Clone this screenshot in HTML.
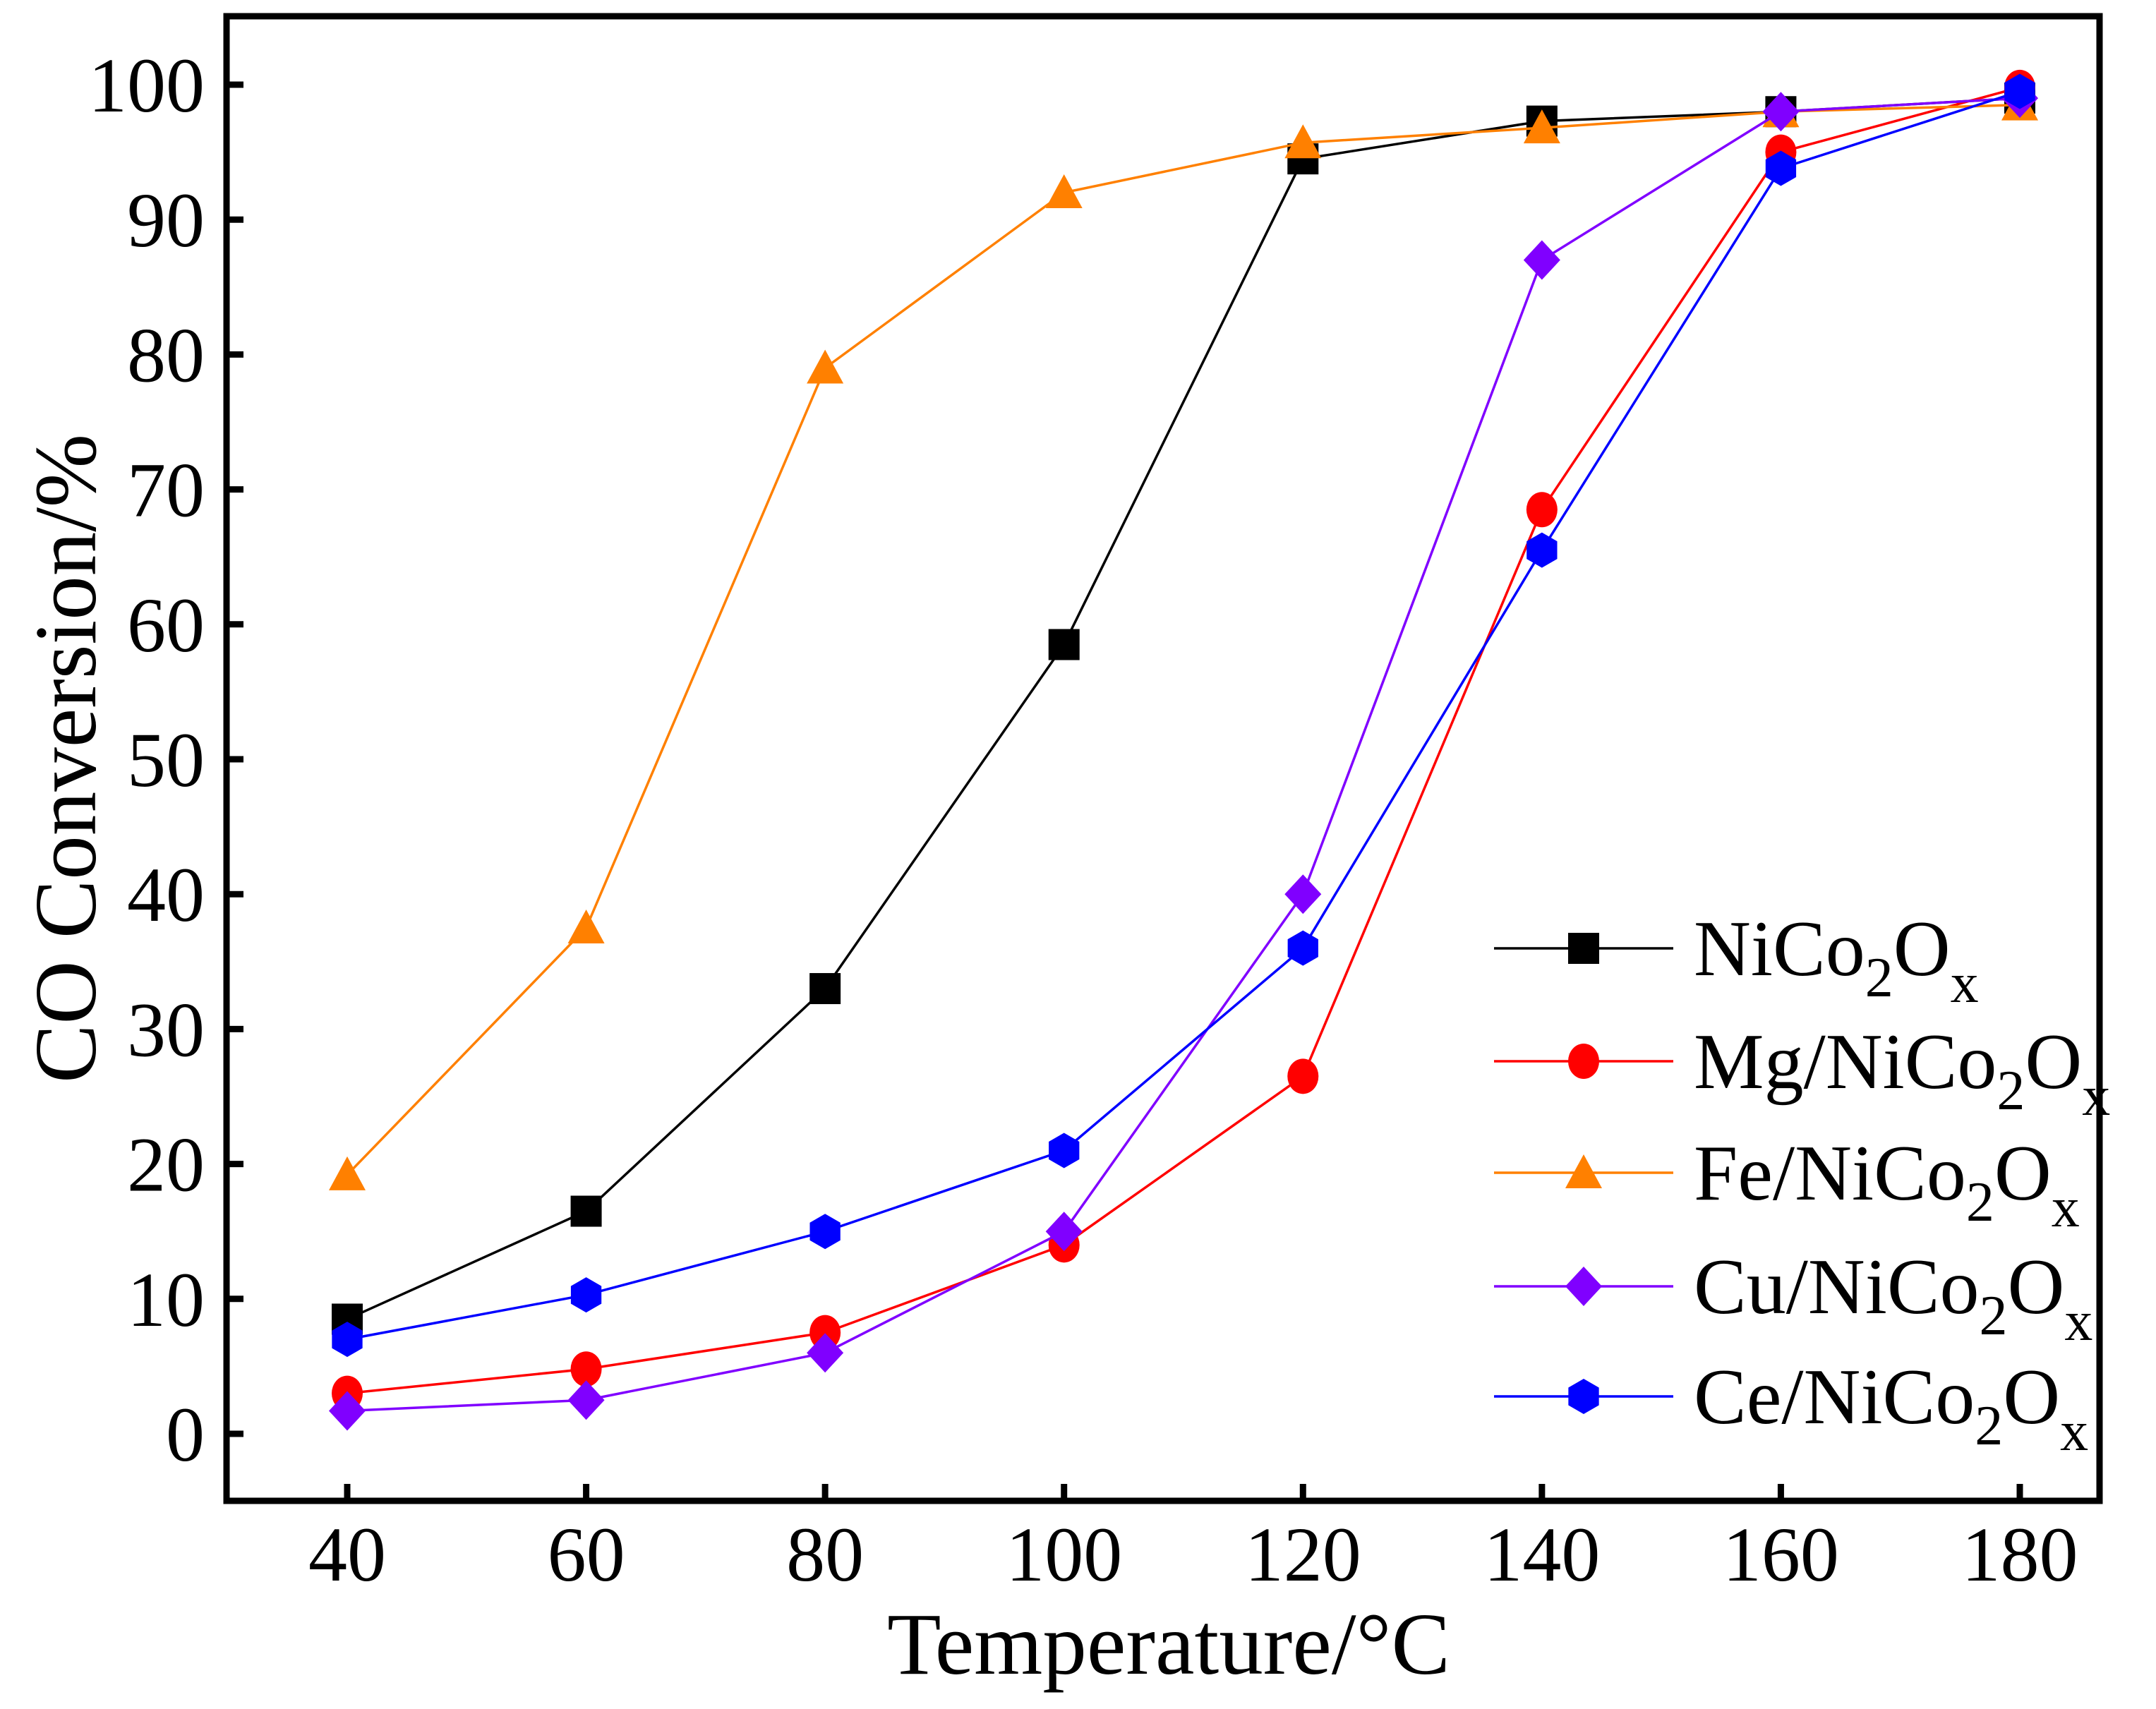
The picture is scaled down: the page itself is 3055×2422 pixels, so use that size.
<!DOCTYPE html>
<html><head><meta charset="utf-8"><style>
html,body{margin:0;padding:0;background:#fff;}
svg{display:block;font-family:"Liberation Serif",serif;}
</style></head><body>
<svg id="chart" width="3055" height="2422" viewBox="0 0 3055 2422" xmlns="http://www.w3.org/2000/svg">
<rect x="321" y="23" width="2654" height="2104" fill="none" stroke="#000" stroke-width="9"/>
<g id="ticks"></g><g id="lines"></g><g id="legend"></g>
<text x="1656" y="2372" font-size="125" text-anchor="middle">Temperature/°C</text>
<text transform="translate(135,1075) rotate(-90)" font-size="125" text-anchor="middle">CO Conversion/%</text>
</svg>
<script>
const temps=[40,60,80,100,120,140,160,180];
const xTicks=[40,60,80,100,120,140,160,180];
const yTicks=[0,10,20,30,40,50,60,70,80,90,100];
const niCo=[8.5,16.5,33,58.5,94.5,97.3,98,99];
const mg=[3,4.8,7.5,14,26.5,68.5,95,99.8];
const fe=[19.2,37.5,79,92,95.7,96.8,98,98.5];
const cu=[1.7,2.5,6,15,40,87,98,99];
const ce=[7,10.3,15,21,36,65.5,93.8,99.5];
const seriesNames=["NiCo","Mg/NiCo","Fe/NiCo","Cu/NiCo","Ce/NiCo"];
const NS="http://www.w3.org/2000/svg";
function X(v){return 492+(v-40)*(2862-492)/140;}
function Y(v){return 2032-v*(2032-120)/100;}
function mk(tag,attrs,parent){const e=document.createElementNS(NS,tag);for(const k in attrs)e.setAttribute(k,attrs[k]);parent.appendChild(e);return e;}
const tk=document.getElementById('ticks');
yTicks.forEach(v=>{
  const l=mk('line',{x1:321,x2:345,y1:Y(v),y2:Y(v),stroke:'#000','stroke-width':9},tk);
  
  
  const t=mk('text',{x:290,y:Y(v)+38,'font-size':110,'text-anchor':'end'},tk);
  t.textContent=v;
  
  
});
xTicks.forEach(v=>{
  const l=mk('line',{x1:X(v),x2:X(v),y1:2127,y2:2103,stroke:'#000','stroke-width':9},tk);
  
  
  const t=mk('text',{x:X(v),y:2240,'font-size':110,'text-anchor':'middle'},tk);
  t.textContent=v;
  
  
});
function marker(shape,cx,cy,color,parent){
  const s=22;let e;
  if(shape==='square')e=mk('rect',{x:cx-s,y:cy-s,width:2*s,height:2*s,fill:color},parent);
  else if(shape==='circle')e=mk('ellipse',{cx:cx,cy:cy,rx:s,ry:s+3,fill:color},parent);
  else if(shape==='triangle')e=mk('polygon',{points:`${cx},${cy-s-4} ${cx+s+4},${cy+s} ${cx-s-4},${cy+s}`,fill:color},parent);
  else if(shape==='diamond')e=mk('polygon',{points:`${cx},${cy-s-6} ${cx+s+4},${cy} ${cx},${cy+s+6} ${cx-s-4},${cy}`,fill:color},parent);
  else {const p=[];for(let i=0;i<6;i++){const a=Math.PI/6+i*Math.PI/3;p.push((cx+(s+3)*Math.cos(a))+','+(cy+(s+3)*Math.sin(a)));}e=mk('polygon',{points:p.join(' '),fill:color},parent);}
  return e;
}
const series=[
 {vals:niCo,color:'#000',shape:'square',name:'nico2ox'},
 {vals:mg,color:'#ff0000',shape:'circle',name:'mg-nico2ox'},
 {vals:fe,color:'#ff8000',shape:'triangle',name:'fe-nico2ox'},
 {vals:cu,color:'#8000ff',shape:'diamond',name:'cu-nico2ox'},
 {vals:ce,color:'#0000ff',shape:'hexagon',name:'ce-nico2ox'}];
const lg=document.getElementById('lines');
series.forEach(s=>{
  const g=mk('g',{},lg);
  
  
  const pl=mk('polyline',{points:temps.map((t,i)=>X(t)+','+Y(s.vals[i])).join(' '),fill:'none',stroke:s.color,'stroke-width':3.5},g);
  
  
  temps.forEach((t,i)=>{
    const m=marker(s.shape,X(t),Y(s.vals[i]),s.color,g);
    
    
  });
});
const leg=document.getElementById('legend');
const rows=[1344,1504,1662,1823,1979];
series.forEach((s,i)=>{
  const g=mk('g',{},leg);
  
  
  mk('line',{x1:2117,x2:2371,y1:rows[i],y2:rows[i],stroke:s.color,'stroke-width':3.5},g);
  marker(s.shape,2244,rows[i],s.color,g);
  const t=mk('text',{x:2400,y:rows[i]+38,'font-size':112},g);
  t.innerHTML=seriesNames[i]+'<tspan font-size="80" dy="30">2</tspan><tspan dy="-30">O</tspan><tspan font-size="80" dy="38">x</tspan>';
});
</script>
</body></html>
